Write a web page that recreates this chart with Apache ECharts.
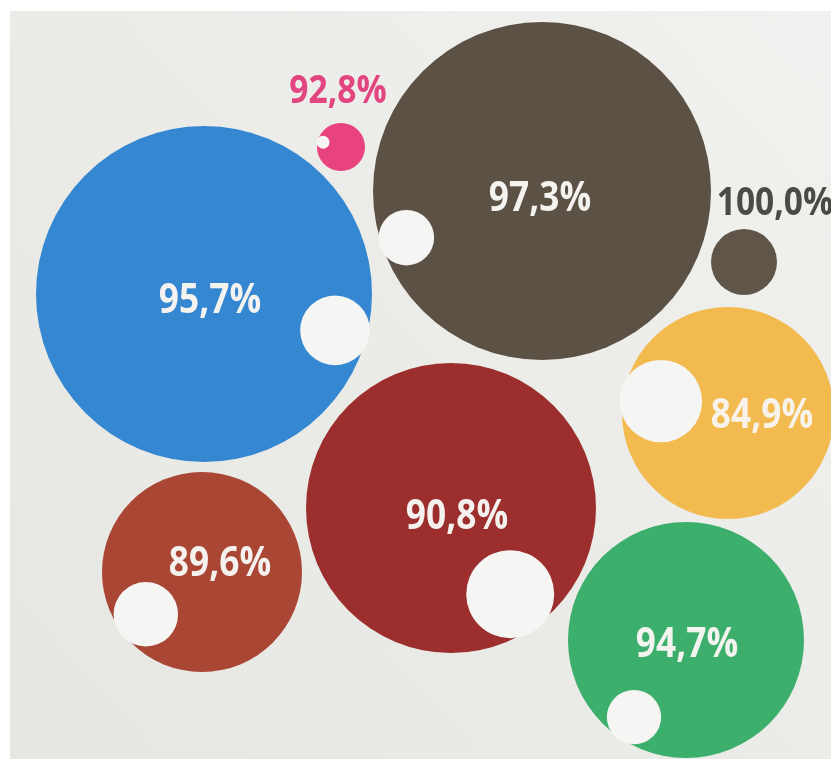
<!DOCTYPE html>
<html>
<head>
<meta charset="utf-8">
<script src="https://cdn.jsdelivr.net/npm/echarts@6/dist/echarts.min.js"></script>
<style>
html,body{margin:0;padding:0;background:#ffffff;}
#c{width:831px;height:759px;}
</style>
</head>
<body>
<div id="c"></div>
<script>
// ---- data ----
const shares  = [95.7, 92.8, 97.3, 100.0, 84.9, 90.8, 89.6, 94.7];
const bubbleX = [204, 341, 542, 744, 728, 451, 202, 686];
const bubbleY = [294, 147, 191, 262, 413, 508, 572, 640];
const bubbleR = [168, 24, 169, 33, 106, 145, 100, 118];

// ---- styling / layout (not data) ----
const colors     = ['#3587d1', '#e9437f', '#5b5144', '#5f5649', '#f2ba4f', '#9c2f2d', '#a94634', '#3caf6c'];
const holeAngle  = [15.5, 195, 161, 0, 190, 55.5, 143, 124];
const labelDx    = [6, -3, -2, 31, 34, 6, 18, 1];
const labelDy    = [7, -55, 8, -58, 3, 9, -8, 5];
const labelColor = ['#f5f3ef', '#e2457f', '#f5f3ef', '#4b4a45', '#f7f3ea', '#f5f1ee', '#f5f1ee', '#f3f4ef'];
const labelSize  = [41, 39, 41, 39, 41, 41, 41, 41];

const fmt = v => v.toFixed(1).replace('.', ',') + '%';
const data = shares.map((v, i) => [bubbleX[i], bubbleY[i], bubbleR[i], v, i]);

const chart = echarts.init(document.getElementById('c'), null, {renderer: 'canvas'});
chart.setOption({
  backgroundColor: 'transparent',
  animation: false,
  graphic: [{
    type: 'rect', z: -10, silent: true,
    shape: {x: 10, y: 11, width: 821, height: 748},
    style: {fill: new echarts.graphic.LinearGradient(1, 0, 0, 1, [
      {offset: 0, color: '#f1f1ef'},
      {offset: 0.5, color: '#ebebe8'},
      {offset: 1, color: '#e6e6e3'}
    ])}
  }],
  grid: {left: 0, right: 0, top: 0, bottom: 0},
  xAxis: {type: 'value', min: 0, max: 831, show: false},
  yAxis: {type: 'value', min: 0, max: 759, inverse: true, show: false},
  series: [{
    type: 'custom',
    coordinateSystem: 'cartesian2d',
    data: data,
    renderItem: function (params, api) {
      const i = api.value(4);
      const c = api.coord([api.value(0), api.value(1)]);
      const R = api.size([api.value(2), 0])[0];
      const v = api.value(3);
      const children = [{
        type: 'circle',
        shape: {cx: c[0], cy: c[1], r: R},
        style: {fill: colors[i]}
      }];
      if (v < 100) {
        const r = R * Math.sqrt((100 - v) / 100);
        const d = R - r + Math.max(1, r * 0.08);
        const a = holeAngle[i] * Math.PI / 180;
        children.push({
          type: 'circle',
          shape: {cx: c[0] + d * Math.cos(a), cy: c[1] + d * Math.sin(a), r: r},
          style: {fill: '#f5f5f3'}
        });
      }
      children.push({
        type: 'text',
        x: c[0] + labelDx[i],
        y: c[1] + labelDy[i],
        scaleX: 0.86,
        scaleY: 1,
        style: {
          text: fmt(v),
          x: 0, y: 0,
          align: 'center',
          verticalAlign: 'middle',
          fontFamily: "'Open Sans', 'Noto Sans', sans-serif",
          fontWeight: 'bold',
          fontSize: labelSize[i],
          fill: labelColor[i]
        }
      });
      return {type: 'group', children: children};
    }
  }]
});
</script>
</body>
</html>
